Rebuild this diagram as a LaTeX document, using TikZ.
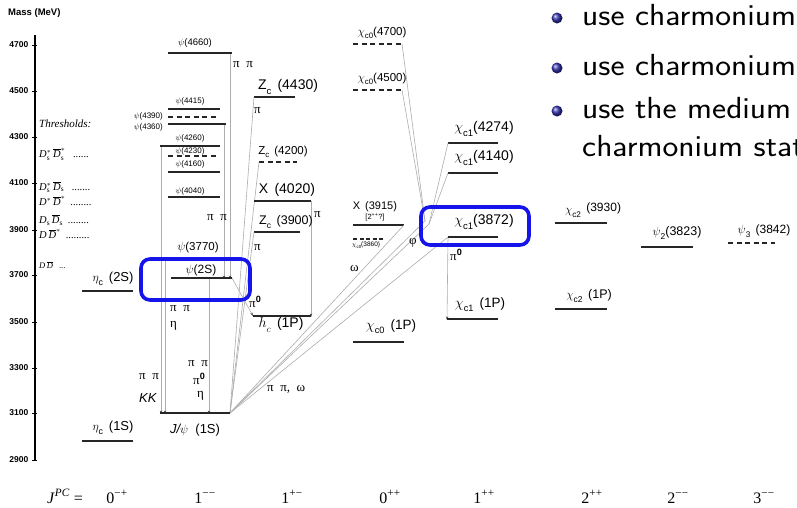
\documentclass[tikz,border=0pt]{standalone}
\usepackage{fontspec}
\usepackage{graphicx}
\setmainfont{Liberation Serif}
\newfontfamily\hel{Liberation Sans}
\usetikzlibrary{arrows.meta}
\newcommand\lvl[5]{\coordinate (#1-l) at (#2,#4); \coordinate (#1-r) at (#3,#4); \draw[#5] (#1-l) -- (#1-r);}
\newcommand\fs[1]{\fontsize{#1}{#1}\selectfont}
\newcommand\sbs[1]{\raisebox{-0.3em}{\scalebox{0.68}{#1}}}
\definecolor{hlblue}{RGB}{20,20,235}
\definecolor{ballblue}{RGB}{50,50,175}
\begin{document}
\begin{tikzpicture}[x=1pt,y=-1pt,
 lev/.style={line width=1.7pt, black!85},
 dlev/.style={lev, dash pattern=on 5pt off 3.5pt},
 ddlev/.style={lev, dash pattern=on 4pt off 2.5pt},
 conn/.style={draw=black!32, line width=0.6pt},
 arr/.style={conn, -{Stealth[length=3.5pt,width=2.4pt,color=black!70]}},
 lab/.style={inner sep=0pt, font=\hel\fs{12}},
 tlab/.style={inner sep=0pt, anchor=west, font=\fs{13}},
 thr/.style={inner sep=0pt, anchor=west, font=\itshape\fs{10.5}},
 hl/.style={draw=hlblue, line width=3.6pt, rounded corners=9pt},
 jpc/.style={inner sep=0pt, anchor=base, font=\fs{16}},
 bul/.style={inner sep=0pt, anchor=base west, xscale=1.10, font=\sffamily\fs{30.5}}]
\useasboundingbox (0,0) rectangle (797,507);
\fill[white] (0,0) rectangle (797,507);
% axis
\coordinate (axtop) at (35,35); \coordinate (axbot) at (35,460);
\draw[line width=1.2pt] (axtop) -- (axbot);
\foreach \m/\y in {4700/45,4500/91,4300/137,4100/183,3900/230,3700/275,3500/322,3300/368,3100/413,2900/460}{
  \draw[line width=0.8pt] (32,\y) -- (37,\y);
  \node[anchor=east, inner sep=0pt, font=\hel\bfseries\fs{8.5}] at (28.5,\y) {\m};}
\node[anchor=west, inner sep=0pt, font=\hel\bfseries\fs{9.5}] (mass) at (8,13) {Mass (MeV)};
% thresholds
\node[thr, font=\itshape\fs{11}] (thr0) at (39,124) {Thresholds:};
\node[thr] (thr1) at (39,154) {$\mathit{D}_{\mathrm{s}}^{*}\,\overline{\mathit{D}}_{\mathrm{s}}^{*}$ \ \ ......};
\node[thr] (thr2) at (39,187) {$\mathit{D}_{\mathrm{s}}^{*}\,\overline{\mathit{D}}_{\mathrm{s}}$ \ \ .......};
\node[thr] (thr3) at (39,201) {$\mathit{D}^{*}\,\overline{\mathit{D}}^{*}$ \ ........};
\node[thr] (thr4) at (39,220) {$\mathit{D}_{\mathrm{s}}\,\overline{\mathit{D}}_{\mathrm{s}}$ \ ........};
\node[thr] (thr5) at (39,234) {$\mathit{D}\,\overline{\mathit{D}}^{*}$ \ .........};
\node[thr, font=\itshape\fs{8.5}] (thr6) at (39,265) {$\mathit{D}\,\overline{\mathit{D}}$ \ \ ...};
% levels
\lvl{etac2S}{82}{133}{291}{lev}
\lvl{etac1S}{82}{133}{441}{lev}
\lvl{jpsi}{160}{230}{413}{lev}
\lvl{psi2S}{171}{232}{278}{lev}
\lvl{psi3770}{165}{228}{259}{lev}
\lvl{psi4040}{168}{220}{197}{lev}
\lvl{psi4160}{168}{220}{172}{lev}
\lvl{psi4230}{168}{217}{156}{dlev}
\lvl{psi4260}{160}{220}{146}{lev}
\lvl{psi4360}{168}{226}{124}{lev}
\lvl{psi4390}{168}{217}{117}{dlev}
\lvl{psi4415}{168}{220}{109}{lev}
\lvl{psi4660}{168}{232}{53}{lev}
\lvl{zc4430}{254}{295}{97}{lev}
\lvl{zc4200}{259}{297}{162}{dlev}
\lvl{x4020}{254}{311}{201}{lev}
\lvl{zc3900}{254}{300}{232}{lev}
\lvl{hc}{253}{311}{316}{lev}
\lvl{chi04700}{353}{402}{44}{dlev}
\lvl{chi04500}{353}{402}{90}{dlev}
\lvl{x3915}{353}{404}{225}{lev}
\lvl{chi03860}{353}{383}{239}{ddlev}
\lvl{chi0}{353}{404}{342}{lev}
\lvl{chi14274}{448}{498}{143}{lev}
\lvl{chi14140}{448}{498}{173}{lev}
\lvl{chi13872}{448}{498}{237}{lev}
\lvl{chi1}{447}{498}{319}{lev}
\lvl{chi23930}{555}{607}{223}{lev}
\lvl{chi2}{555}{607}{309}{lev}
\lvl{psiD}{641}{693}{247}{lev}
\lvl{psiF}{728}{775}{243}{dlev}
% connectors
\coordinate (psi2Sm) at (209,278);
\coordinate (P1) at (425,221);
\coordinate (P2) at (429,224);
\draw[arr] ([xshift=-2pt]psi4660-r) -- ([xshift=-2pt,yshift=-1pt]psi4660-r |- psi2S-l);
\draw[arr] ([xshift=-2pt]psi4360-r) -- ([xshift=-2pt,yshift=-1pt]psi4360-r |- psi2S-l);
\draw[arr] ([xshift=1pt]psi4260-l) -- ([xshift=1pt,yshift=-1pt]psi4260-l |- jpsi-l);
\draw[arr] (psi3770-l) -- ([yshift=-1pt]psi3770-l |- jpsi-l);
\draw[arr] (psi2Sm) -- ([yshift=-1pt]psi2Sm |- jpsi-l);
\draw[arr] (psi2S-r) -- (hc-l);
\draw[arr] (x4020-r) -- ([yshift=-1pt]hc-r);
\draw[arr] (chi13872-l) -- ([yshift=-1pt]chi1-l);
\draw[conn] (zc4430-l) -- (jpsi-r);
\draw[conn] (zc4200-l) -- (jpsi-r);
\draw[conn] (zc3900-l) -- (jpsi-r);
\draw[conn] (x3915-r) -- (jpsi-r);
\draw[conn] (P1) -- (jpsi-r);
\draw[conn] (P2) -- (jpsi-r);
\draw[conn] (chi13872-l) -- (jpsi-r);
\draw[conn] (chi04700-r) -- (P1);
\draw[conn] (chi04500-r) -- (P1);
\draw[conn] (chi14274-l) -- (P2);
\draw[conn] (chi14140-l) -- (P2);
% redraw levels on top of connectors
\foreach \n in {jpsi,psi2S,psi4660,psi4360,psi4260,hc,x4020,chi13872,chi1}{\draw[lev] (\n-l) -- (\n-r);}
% highlight boxes
\draw[hl] (141,259) rectangle (250,300);
\draw[hl] (421,207) rectangle (529,245);
% level labels
\node[lab, font=\hel\fs{9.5}] (l4660) at (195,43) {$\psi$(4660)};
\node[lab, font=\hel\fs{8}] (l4415) at (190,101) {$\psi$(4415)};
\node[lab, font=\hel\fs{8}, anchor=east] (l4390) at (163,116) {$\psi$(4390)};
\node[lab, font=\hel\fs{8}, anchor=east] (l4360) at (163,127) {$\psi$(4360)};
\node[lab, font=\hel\fs{8}] (l4260) at (190,138) {$\psi$(4260)};
\node[lab, font=\hel\fs{8}] (l4230) at (190,151) {$\psi$(4230)};
\node[lab, font=\hel\fs{8}] (l4160) at (190,164) {$\psi$(4160)};
\node[lab, font=\hel\fs{8}] (l4040) at (190,191) {$\psi$(4040)};
\node[lab, font=\hel\fs{11.5}] (l3770) at (198,248) {$\psi$(3770)};
\node[lab, font=\hel\fs{12}] (l2S) at (201,270) {$\psi$(2S)};
\node[lab, font=\hel\fs{13}] (l1S) at (195,430) {\itshape J/$\psi$\upshape\ \ (1S)};
\node[lab, font=\hel\fs{13}] (le2) at (113,279) {$\eta$\sbs{c} \,(2S)};
\node[lab, font=\hel\fs{13}] (le1) at (113,428) {$\eta$\sbs{c} \,(1S)};
\node[lab, font=\hel\fs{14}] (lz4430) at (288,87) {Z\sbs{c} \,(4430)};
\node[lab, font=\hel\fs{11.5}] (lz4200) at (283,152) {Z\sbs{c} \,(4200)};
\node[lab, font=\hel\fs{14}] (lx4020) at (287,190) {X \,(4020)};
\node[lab, font=\hel\fs{12.5}] (lz3900) at (286,222) {Z\sbs{c} \,(3900)};
\node[lab, font=\hel\fs{14}] (lhc) at (281,325) {$h$\sbs{$c$} \,(1P)};
\node[lab, font=\hel\fs{11.5}] (lc4700) at (382,33) {$\chi$\sbs{c0}(4700)};
\node[lab, font=\hel\fs{11.5}] (lc4500) at (382,79) {$\chi$\sbs{c0}(4500)};
\node[lab, font=\hel\fs{11}] (lx3915) at (375,207) {X \,(3915)};
\node[lab, font=\hel\fs{7.5}] (lx3915b) at (375,217) {[2\textsuperscript{++}?]};
\node[lab, font=\hel\fs{6.5}] (lc3860) at (366,245) {$\chi$\sbs{c0}(3860)};
\node[lab, font=\hel\fs{13.5}] (lc0) at (391,327) {$\chi$\sbs{c0} \,(1P)};
\node[lab, font=\hel\fs{14}] (lc4274) at (484,129) {$\chi$\sbs{c1}(4274)};
\node[lab, font=\hel\fs{14}] (lc4140) at (484,158) {$\chi$\sbs{c1}(4140)};
\node[lab, font=\hel\fs{14}] (lc3872) at (484,222) {$\chi$\sbs{c1}(3872)};
\node[lab, font=\hel\fs{13.5}] (lc1) at (480,305) {$\chi$\sbs{c1} \,(1P)};
\node[lab, font=\hel\fs{12}] (lc3930) at (593,210) {$\chi$\sbs{c2} \,\raisebox{2pt}{(3930)}};
\node[lab, font=\hel\fs{12.5}] (lc2) at (589,296) {$\chi$\sbs{c2} \,(1P)};
\node[lab, font=\hel\fs{12.5}] (lp2) at (677,233) {$\psi$\sbs{2}(3823)};
\node[lab, font=\hel\fs{12}] (lp3) at (764,231) {$\psi$\sbs{3} \,(3842)};
% transition labels
\node[tlab] (t1) at (233,65) {π \ π};
\node[tlab] (t2) at (254,111) {π};
\node[tlab] (t3) at (207,218) {π \ π};
\node[tlab] (t4) at (314,215) {π};
\node[tlab] (t5) at (254,248) {π};
\node[tlab] (t6) at (249,302) {π\textsuperscript{\hel\bfseries 0}};
\node[tlab] (t7) at (170,309) {π \ π};
\node[tlab] (t8) at (170,326) {η};
\node[tlab] (t9) at (139,377) {π \ π};
\node[tlab, font=\hel\itshape\fs{13}] (t10) at (139,398) {KK};
\node[tlab] (t11) at (188,364) {π \ π};
\node[tlab] (t12) at (193,379) {π\textsuperscript{\hel\bfseries 0}};
\node[tlab] (t13) at (197,396) {η};
\node[tlab] (t14) at (267,389) {π \ π, \ ω};
\node[tlab] (t15) at (350,269) {ω};
\node[tlab] (t16) at (409,243) {φ};
\node[tlab] (t17) at (450,255) {π\textsuperscript{\hel\bfseries 0}};
% J^PC row
\node[jpc, anchor=base west] (jpc) at (47,503) {\textit{J}\textsuperscript{\textit{PC}} =};
\foreach \x/\t [count=\i] in {117/0\textsuperscript{−+},205/1\textsuperscript{−−},292/1\textsuperscript{+−},390/0\textsuperscript{++},484/1\textsuperscript{++},592/2\textsuperscript{++},678/2\textsuperscript{−−},764/3\textsuperscript{−−}}
  \node[jpc] (jpc\i) at (\x,503) {\t};
% bullets
\foreach \y [count=\i] in {18,68,111}{\shade[ball color=ballblue] (557,\y) circle (5.5pt);}
\node[bul] (b1) at (582,25) {use charmonium};
\node[bul] (b2) at (582,75) {use charmonium};
\node[bul] (b3) at (582,118) {use the medium};
\node[bul] (b4) at (582,156) {charmonium stat};
\end{tikzpicture}
\end{document}
